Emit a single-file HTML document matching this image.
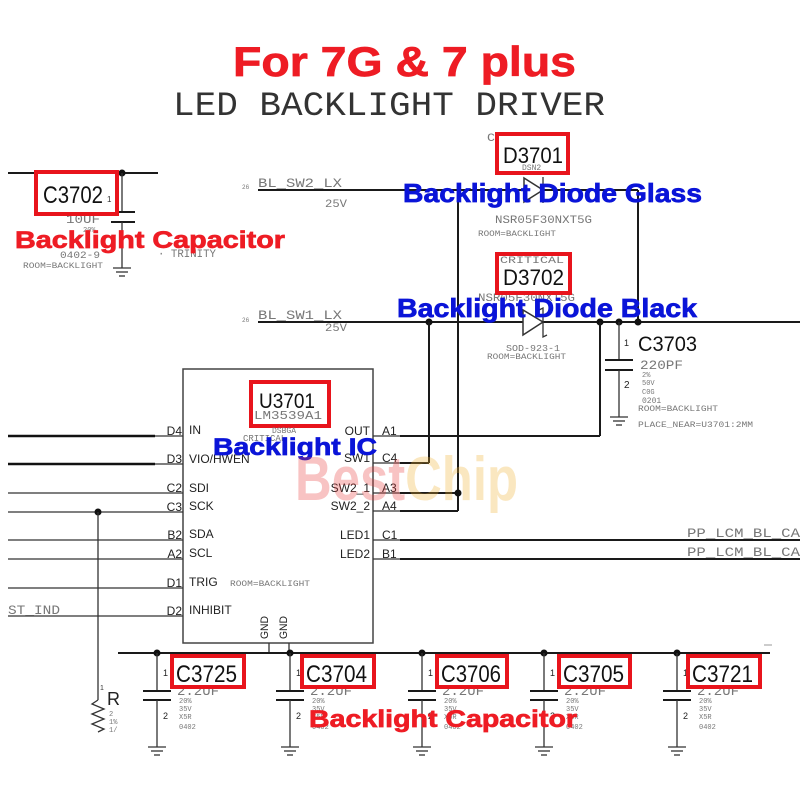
<!DOCTYPE html>
<html><head><meta charset="utf-8"><style>
html,body{margin:0;padding:0;background:#fff;}
svg{display:block;}
.m{font-family:"Liberation Mono",monospace;fill:#777;}
.s{font-family:"Liberation Sans",sans-serif;}
.w{stroke:#1a1a1a;stroke-width:2;fill:none;}
.t{stroke:#333;stroke-width:1.3;fill:none;}
.rb{fill:#fff;stroke:#e8141c;stroke-width:4;}
.red{font-family:"Liberation Sans",sans-serif;font-weight:bold;fill:#ee1c24;stroke:#ee1c24;stroke-width:0.7;}
.blue{font-family:"Liberation Sans",sans-serif;font-weight:bold;fill:#0a14d8;stroke:#0a14d8;stroke-width:0.7;}
.lab{font-family:"Liberation Sans",sans-serif;fill:#222;font-size:12px;}
</style></head><body>
<svg width="800" height="800" viewBox="0 0 800 800" xmlns="http://www.w3.org/2000/svg">
<rect width="800" height="800" fill="#fff"/>

<!-- Titles -->
<text x="233" y="76" class="red" font-size="42" textLength="343" lengthAdjust="spacingAndGlyphs">For 7G &amp; 7 plus</text>
<text x="173" y="115" font-family="Liberation Mono, monospace" font-size="34" fill="#333" textLength="432" lengthAdjust="spacingAndGlyphs">LED BACKLIGHT DRIVER</text>

<!-- C3702 -->
<line x1="8" y1="173" x2="158" y2="173" class="w"/>
<circle cx="122" cy="173" r="3.5" fill="#111"/>
<line x1="122" y1="173" x2="122" y2="212" class="t"/>
<line x1="111" y1="212" x2="135" y2="212" class="w"/>
<line x1="111" y1="222" x2="135" y2="222" class="w"/>
<line x1="122" y1="222" x2="122" y2="268" class="t"/>
<line x1="113" y1="268" x2="131" y2="268" class="t"/>
<line x1="116" y1="272" x2="128" y2="272" class="t"/>
<line x1="119" y1="276" x2="125" y2="276" class="t"/>
<text x="66" y="223" class="m" font-size="13" textLength="34" lengthAdjust="spacingAndGlyphs">10UF</text>
<text x="83" y="232" class="m" font-size="7">20%</text>
<text x="60" y="258" class="m" font-size="10" textLength="40" lengthAdjust="spacingAndGlyphs">0402-9</text>
<text x="23" y="268" class="m" font-size="8" textLength="80" lengthAdjust="spacingAndGlyphs">ROOM=BACKLIGHT</text>
<text x="158" y="257" class="m" font-size="11" textLength="58" lengthAdjust="spacingAndGlyphs">· TRINITY</text>
<rect x="36" y="172" width="81" height="42" class="rb"/>
<text x="43" y="203" class="s" font-size="24" fill="#111" textLength="60" lengthAdjust="spacingAndGlyphs">C3702</text>
<text x="107" y="202" class="s" font-size="8" fill="#333">1</text>
<text x="15" y="248" class="red" font-size="24" textLength="270" lengthAdjust="spacingAndGlyphs">Backlight Capacitor</text>

<!-- BL_SW2_LX -->
<text x="242" y="189" class="m" font-size="6">26</text>
<text x="258" y="187" class="m" font-size="13" fill="#555" textLength="84" lengthAdjust="spacingAndGlyphs">BL_SW2_LX</text>
<text x="325" y="207" class="m" font-size="11" textLength="22" lengthAdjust="spacingAndGlyphs">25V</text>
<line x1="258" y1="190" x2="638" y2="190" class="w"/>
<polygon points="524,178 524,202 543,190" fill="#fff" stroke="#333" stroke-width="1.5"/>
<line x1="543" y1="177" x2="543" y2="203" class="t"/>
<line x1="458" y1="190" x2="458" y2="511" class="w"/>
<line x1="638" y1="190" x2="638" y2="322" class="w"/>

<!-- D3701 labels -->
<text x="487" y="141" class="m" font-size="11" textLength="64" lengthAdjust="spacingAndGlyphs">CRITICAL</text>
<rect x="497" y="134" width="71" height="39" class="rb"/>
<text x="503" y="163" class="s" font-size="22" fill="#111" textLength="60" lengthAdjust="spacingAndGlyphs">D3701</text>
<text x="522" y="170" class="m" font-size="8">DSN2</text>
<text x="495" y="223" class="m" font-size="11" textLength="97" lengthAdjust="spacingAndGlyphs">NSR05F30NXT5G</text>
<text x="478" y="236" class="m" font-size="8" textLength="78" lengthAdjust="spacingAndGlyphs">ROOM=BACKLIGHT</text>

<!-- BL_SW1_LX -->
<text x="242" y="322" class="m" font-size="6">26</text>
<text x="258" y="319" class="m" font-size="13" fill="#555" textLength="84" lengthAdjust="spacingAndGlyphs">BL_SW1_LX</text>
<text x="325" y="331" class="m" font-size="11" textLength="22" lengthAdjust="spacingAndGlyphs">25V</text>
<line x1="258" y1="322" x2="800" y2="322" class="w"/>
<polygon points="523,310 523,335 543,322" fill="#fff" stroke="#333" stroke-width="1.5"/>
<polyline points="539,310 543,308 543,337 547,335" class="t"/>
<circle cx="429" cy="322" r="3.5" fill="#111"/>
<circle cx="600" cy="322" r="3.5" fill="#111"/>
<circle cx="619" cy="322" r="3.5" fill="#111"/>
<circle cx="638" cy="322" r="3.5" fill="#111"/>
<line x1="429" y1="322" x2="429" y2="463" class="w"/>
<line x1="600" y1="322" x2="600" y2="436" class="w"/>

<!-- D3702 labels -->
<text x="478" y="301" class="m" font-size="11" textLength="97" lengthAdjust="spacingAndGlyphs">NSR05F30NXT5G</text>
<rect x="497" y="254" width="73" height="39" class="rb"/>
<text x="500" y="263" class="m" font-size="10" textLength="64" lengthAdjust="spacingAndGlyphs">CRITICAL</text>
<text x="503" y="285" class="s" font-size="22" fill="#111" textLength="61" lengthAdjust="spacingAndGlyphs">D3702</text>
<text x="506" y="351" class="m" font-size="9" textLength="54" lengthAdjust="spacingAndGlyphs">SOD-923-1</text>
<text x="487" y="359" class="m" font-size="8" textLength="79" lengthAdjust="spacingAndGlyphs">ROOM=BACKLIGHT</text>

<text x="403" y="202" class="blue" font-size="26" textLength="299" lengthAdjust="spacingAndGlyphs">Backlight Diode Glass</text>
<text x="397" y="317" class="blue" font-size="26" textLength="300" lengthAdjust="spacingAndGlyphs">Backlight Diode Black</text>

<!-- C3703 -->
<line x1="619" y1="322" x2="619" y2="360" class="t"/>
<line x1="605" y1="360" x2="633" y2="360" class="w"/>
<line x1="605" y1="370" x2="633" y2="370" class="w"/>
<line x1="619" y1="370" x2="619" y2="417" class="t"/>
<line x1="610" y1="417" x2="628" y2="417" class="t"/>
<line x1="613" y1="421" x2="625" y2="421" class="t"/>
<line x1="616" y1="425" x2="622" y2="425" class="t"/>
<text x="624" y="346" class="s" font-size="9" fill="#222">1</text>
<text x="624" y="388" class="s" font-size="10" fill="#222">2</text>
<text x="638" y="351" class="s" font-size="21" fill="#111" textLength="59" lengthAdjust="spacingAndGlyphs">C3703</text>
<text x="640" y="369" class="m" font-size="13" textLength="43" lengthAdjust="spacingAndGlyphs">220PF</text>
<text x="642" y="377" class="m" font-size="7">2%</text>
<text x="642" y="385" class="m" font-size="7">50V</text>
<text x="642" y="394" class="m" font-size="7">C0G</text>
<text x="642" y="403" class="m" font-size="8">0201</text>
<text x="638" y="411" class="m" font-size="8" textLength="80" lengthAdjust="spacingAndGlyphs">ROOM=BACKLIGHT</text>
<text x="638" y="427" class="m" font-size="8" textLength="115" lengthAdjust="spacingAndGlyphs">PLACE_NEAR=U3701:2MM</text>

<!-- IC -->
<rect x="183" y="369" width="190" height="274" fill="none" stroke="#444" stroke-width="1.5"/>
<rect x="251" y="382" width="78" height="44" class="rb"/>
<text x="259" y="408" class="s" font-size="21" fill="#111" textLength="56" lengthAdjust="spacingAndGlyphs">U3701</text>
<text x="254" y="419" class="m" font-size="12" textLength="68" lengthAdjust="spacingAndGlyphs">LM3539A1</text>
<text x="272" y="433" class="m" font-size="8">DSBGA</text>
<text x="243" y="441" class="m" font-size="9">CRITICAL</text>
<text x="230" y="586" class="m" font-size="8" textLength="80" lengthAdjust="spacingAndGlyphs">ROOM=BACKLIGHT</text>

<!-- left pins -->
<line x1="8" y1="436" x2="155" y2="436" stroke="#111" stroke-width="2.6"/>
<line x1="155" y1="436" x2="183" y2="436" class="t"/>
<line x1="8" y1="464" x2="155" y2="464" stroke="#111" stroke-width="2.6"/>
<line x1="155" y1="464" x2="183" y2="464" class="t"/>
<line x1="8" y1="493" x2="183" y2="493" class="t"/>
<line x1="8" y1="512" x2="183" y2="512" class="t"/>
<line x1="8" y1="540" x2="183" y2="540" class="t"/>
<line x1="8" y1="559" x2="183" y2="559" class="t"/>
<line x1="8" y1="588" x2="183" y2="588" class="t"/>
<line x1="8" y1="616" x2="183" y2="616" class="t"/>
<g class="lab" text-anchor="end">
<text x="182" y="435">D4</text><text x="182" y="463">D3</text><text x="182" y="492">C2</text><text x="182" y="511">C3</text>
<text x="182" y="539">B2</text><text x="182" y="558">A2</text><text x="182" y="587">D1</text><text x="182" y="615">D2</text>
</g>
<g class="lab">
<text x="189" y="434">IN</text><text x="189" y="463">VIO/HWEN</text><text x="189" y="492">SDI</text><text x="189" y="510">SCK</text>
<text x="189" y="538">SDA</text><text x="189" y="557">SCL</text><text x="189" y="586">TRIG</text><text x="189" y="614">INHIBIT</text>
</g>
<circle cx="98" cy="512" r="3.5" fill="#111"/>
<line x1="98" y1="512" x2="98" y2="700" class="t"/>
<polyline points="98,700 92,704 104,709 92,714 104,719 92,724 104,729 98,732" class="t"/>
<text x="100" y="690" class="s" font-size="7" fill="#333">1</text>
<text x="107" y="705" class="s" font-size="18" fill="#222">R</text>
<text x="109" y="716" class="m" font-size="7">2</text>
<text x="109" y="724" class="m" font-size="7">1%</text>
<text x="109" y="732" class="m" font-size="7">1/</text>
<text x="8" y="614" class="m" font-size="13" textLength="52" lengthAdjust="spacingAndGlyphs">ST_IND</text>

<!-- right pins -->
<g class="lab" text-anchor="end">
<text x="370" y="435">OUT</text><text x="370" y="462">SW1</text><text x="370" y="492">SW2_1</text><text x="370" y="510">SW2_2</text>
<text x="370" y="539">LED1</text><text x="370" y="558">LED2</text>
</g>
<g class="lab">
<text x="382" y="435">A1</text><text x="382" y="462">C4</text><text x="382" y="492">A3</text><text x="382" y="510">A4</text>
<text x="382" y="539">C1</text><text x="382" y="558">B1</text>
</g>
<line x1="373" y1="436" x2="400" y2="436" class="t"/>
<line x1="373" y1="463" x2="400" y2="463" class="t"/>
<line x1="373" y1="493" x2="400" y2="493" class="t"/>
<line x1="373" y1="511" x2="400" y2="511" class="t"/>
<line x1="373" y1="540" x2="400" y2="540" class="t"/>
<line x1="373" y1="559" x2="400" y2="559" class="t"/>
<line x1="400" y1="436" x2="600" y2="436" class="w"/>
<line x1="400" y1="463" x2="429" y2="463" class="w"/>
<line x1="400" y1="493" x2="458" y2="493" class="w"/>
<line x1="400" y1="511" x2="458" y2="511" class="w"/>
<circle cx="458" cy="493" r="3.5" fill="#111"/>
<line x1="400" y1="540" x2="800" y2="540" class="w"/>
<line x1="400" y1="559" x2="800" y2="559" class="w"/>
<text x="687" y="537" class="m" font-size="13" textLength="113" lengthAdjust="spacingAndGlyphs">PP_LCM_BL_CA</text>
<text x="687" y="556" class="m" font-size="13" textLength="113" lengthAdjust="spacingAndGlyphs">PP_LCM_BL_CA</text>

<text x="213" y="455" class="blue" font-size="24" textLength="164" lengthAdjust="spacingAndGlyphs">Backlight IC</text>

<!-- watermark -->
<text x="295" y="500" font-family="Liberation Sans, sans-serif" font-weight="bold" font-size="62" textLength="223" lengthAdjust="spacingAndGlyphs"><tspan fill="#e83838" fill-opacity="0.3">Best</tspan><tspan fill="#f0b030" fill-opacity="0.3">Chip</tspan></text>

<!-- GND pins -->
<line x1="269" y1="643" x2="269" y2="653" class="t"/>
<line x1="289" y1="643" x2="289" y2="653" class="t"/>
<text transform="translate(268,639) rotate(-90)" class="s" font-size="11" fill="#222" textLength="23" lengthAdjust="spacingAndGlyphs">GND</text>
<text transform="translate(287,639) rotate(-90)" class="s" font-size="11" fill="#222" textLength="23" lengthAdjust="spacingAndGlyphs">GND</text>

<!-- bottom rail -->
<line x1="118" y1="653" x2="770" y2="653" class="w"/>
<g>
<g transform="translate(157,0)">
<circle cx="0" cy="653" r="3.5" fill="#111"/>
<line x1="0" y1="653" x2="0" y2="691" class="t"/><line x1="-14" y1="691" x2="14" y2="691" class="w"/><line x1="-14" y1="700" x2="14" y2="700" class="w"/>
<line x1="0" y1="700" x2="0" y2="747" class="t"/><line x1="-9" y1="747" x2="9" y2="747" class="t"/><line x1="-6" y1="751" x2="6" y2="751" class="t"/><line x1="-3" y1="755" x2="3" y2="755" class="t"/>
<text x="6" y="676" class="s" font-size="9" fill="#222">1</text><text x="6" y="719" class="s" font-size="9" fill="#222">2</text>
<text x="20" y="695" class="m" font-size="14">2.2UF</text>
<text x="22" y="703" class="m" font-size="7">20%</text><text x="22" y="711" class="m" font-size="7">35V</text><text x="22" y="719" class="m" font-size="7">X5R</text><text x="22" y="729" class="m" font-size="7">0402</text>
</g>
<g transform="translate(290,0)">
<circle cx="0" cy="653" r="3.5" fill="#111"/>
<line x1="0" y1="653" x2="0" y2="691" class="t"/><line x1="-14" y1="691" x2="14" y2="691" class="w"/><line x1="-14" y1="700" x2="14" y2="700" class="w"/>
<line x1="0" y1="700" x2="0" y2="747" class="t"/><line x1="-9" y1="747" x2="9" y2="747" class="t"/><line x1="-6" y1="751" x2="6" y2="751" class="t"/><line x1="-3" y1="755" x2="3" y2="755" class="t"/>
<text x="6" y="676" class="s" font-size="9" fill="#222">1</text><text x="6" y="719" class="s" font-size="9" fill="#222">2</text>
<text x="20" y="695" class="m" font-size="14">2.2UF</text>
<text x="22" y="703" class="m" font-size="7">20%</text><text x="22" y="711" class="m" font-size="7">35V</text><text x="22" y="719" class="m" font-size="7">X5R</text><text x="22" y="729" class="m" font-size="7">0402</text>
</g>
<g transform="translate(422,0)">
<circle cx="0" cy="653" r="3.5" fill="#111"/>
<line x1="0" y1="653" x2="0" y2="691" class="t"/><line x1="-14" y1="691" x2="14" y2="691" class="w"/><line x1="-14" y1="700" x2="14" y2="700" class="w"/>
<line x1="0" y1="700" x2="0" y2="747" class="t"/><line x1="-9" y1="747" x2="9" y2="747" class="t"/><line x1="-6" y1="751" x2="6" y2="751" class="t"/><line x1="-3" y1="755" x2="3" y2="755" class="t"/>
<text x="6" y="676" class="s" font-size="9" fill="#222">1</text><text x="6" y="719" class="s" font-size="9" fill="#222">2</text>
<text x="20" y="695" class="m" font-size="14">2.2UF</text>
<text x="22" y="703" class="m" font-size="7">20%</text><text x="22" y="711" class="m" font-size="7">35V</text><text x="22" y="719" class="m" font-size="7">X5R</text><text x="22" y="729" class="m" font-size="7">0402</text>
</g>
<g transform="translate(544,0)">
<circle cx="0" cy="653" r="3.5" fill="#111"/>
<line x1="0" y1="653" x2="0" y2="691" class="t"/><line x1="-14" y1="691" x2="14" y2="691" class="w"/><line x1="-14" y1="700" x2="14" y2="700" class="w"/>
<line x1="0" y1="700" x2="0" y2="747" class="t"/><line x1="-9" y1="747" x2="9" y2="747" class="t"/><line x1="-6" y1="751" x2="6" y2="751" class="t"/><line x1="-3" y1="755" x2="3" y2="755" class="t"/>
<text x="6" y="676" class="s" font-size="9" fill="#222">1</text><text x="6" y="719" class="s" font-size="9" fill="#222">2</text>
<text x="20" y="695" class="m" font-size="14">2.2UF</text>
<text x="22" y="703" class="m" font-size="7">20%</text><text x="22" y="711" class="m" font-size="7">35V</text><text x="22" y="719" class="m" font-size="7">X5R</text><text x="22" y="729" class="m" font-size="7">0402</text>
</g>
<g transform="translate(677,0)">
<circle cx="0" cy="653" r="3.5" fill="#111"/>
<line x1="0" y1="653" x2="0" y2="691" class="t"/><line x1="-14" y1="691" x2="14" y2="691" class="w"/><line x1="-14" y1="700" x2="14" y2="700" class="w"/>
<line x1="0" y1="700" x2="0" y2="747" class="t"/><line x1="-9" y1="747" x2="9" y2="747" class="t"/><line x1="-6" y1="751" x2="6" y2="751" class="t"/><line x1="-3" y1="755" x2="3" y2="755" class="t"/>
<text x="6" y="676" class="s" font-size="9" fill="#222">1</text><text x="6" y="719" class="s" font-size="9" fill="#222">2</text>
<text x="20" y="695" class="m" font-size="14">2.2UF</text>
<text x="22" y="703" class="m" font-size="7">20%</text><text x="22" y="711" class="m" font-size="7">35V</text><text x="22" y="719" class="m" font-size="7">X5R</text><text x="22" y="729" class="m" font-size="7">0402</text>
</g>
</g>
<line x1="764" y1="645" x2="772" y2="645" stroke="#999" stroke-width="1"/>

<!-- bottom red boxes -->
<rect x="172" y="656" width="72" height="31" class="rb"/>
<text x="176" y="682" class="s" font-size="24" fill="#111" textLength="61" lengthAdjust="spacingAndGlyphs">C3725</text>
<rect x="302" y="656" width="72" height="31" class="rb"/>
<text x="306" y="682" class="s" font-size="24" fill="#111" textLength="61" lengthAdjust="spacingAndGlyphs">C3704</text>
<rect x="437" y="656" width="70" height="31" class="rb"/>
<text x="441" y="682" class="s" font-size="24" fill="#111" textLength="60" lengthAdjust="spacingAndGlyphs">C3706</text>
<rect x="559" y="656" width="71" height="31" class="rb"/>
<text x="563" y="682" class="s" font-size="24" fill="#111" textLength="61" lengthAdjust="spacingAndGlyphs">C3705</text>
<rect x="688" y="656" width="72" height="31" class="rb"/>
<text x="692" y="682" class="s" font-size="24" fill="#111" textLength="61" lengthAdjust="spacingAndGlyphs">C3721</text>

<text x="309" y="727" class="red" font-size="24" textLength="268" lengthAdjust="spacingAndGlyphs">Backlight Capacitor</text>
</svg>
</body></html>
